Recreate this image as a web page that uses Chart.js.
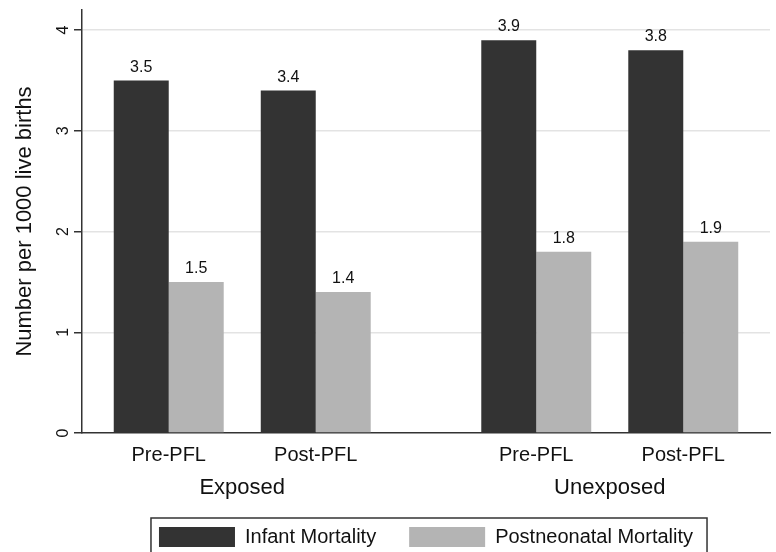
<!DOCTYPE html>
<html><head><meta charset="utf-8">
<script src="https://cdn.jsdelivr.net/npm/chart.js@4.4.1/dist/chart.umd.min.js"></script>
<style>html,body{margin:0;padding:0;background:#fff}#wrap{width:776px;height:552px}</style>
</head><body><div id="wrap"><canvas id="c" width="776" height="552"></canvas></div>
<script>
// ---- data ----
const groups = ['Exposed', 'Unexposed'];
const periods = ['Pre-PFL', 'Post-PFL'];
const seriesNames = ['Infant Mortality', 'Postneonatal Mortality'];
const infantMortality = [3.5, 3.4, 3.9, 3.8];
const postneonatalMortality = [1.5, 1.4, 1.8, 1.9];
const yTicks = [0, 1, 2, 3, 4];

// ---- layout helpers (slot index per group/period) ----
const GROUP_STEP = 2.5;
const slots = [];
groups.forEach((g, gi) => periods.forEach((p, pi) => slots.push({ x: gi * GROUP_STEP + pi, label: p })));
const groupCenters = groups.map((g, gi) => ({ x: gi * GROUP_STEP + (periods.length - 1) / 2, label: g }));

const FONT = '"Liberation Sans", Arial, sans-serif';
const DARK = '#333333', LIGHT = '#b4b4b4';

const valueLabels = {
  id: 'valueLabels',
  afterDatasetsDraw(chart) {
    const ctx = chart.ctx;
    ctx.save();
    ctx.font = '16px ' + FONT;
    ctx.fillStyle = '#111';
    ctx.textAlign = 'center';
    ctx.textBaseline = 'alphabetic';
    chart.data.datasets.forEach((ds, di) => {
      chart.getDatasetMeta(di).data.forEach((el, i) => {
        ctx.fillText(ds.data[i].y.toFixed(1), el.x, el.y - 9);
      });
    });
    ctx.restore();
  }
};

const legendBox = {
  id: 'legendBox',
  afterDraw(chart) {
    const hb = chart.legend && chart.legend.legendHitBoxes;
    if (!hb || !hb.length) return;
    const first = hb[0], last = hb[hb.length - 1];
    const ctx = chart.ctx;
    ctx.save();
    ctx.strokeStyle = '#333';
    ctx.lineWidth = 1.5;
    const l = first.left - 8, r = last.left + last.width + 14;
    const t = first.top - 9, b = first.top + first.height + 9;
    ctx.strokeRect(l, t, r - l, b - t);
    ctx.restore();
  }
};

const xMin = -0.59, xMax = 4.09;

new Chart(document.getElementById('c'), {
  type: 'bar',
  data: {
    datasets: [
      { label: seriesNames[0], data: infantMortality.map((v, i) => ({ x: slots[i].x, y: v })), backgroundColor: DARK, borderWidth: 0 },
      { label: seriesNames[1], data: postneonatalMortality.map((v, i) => ({ x: slots[i].x, y: v })), backgroundColor: LIGHT, borderWidth: 0 }
    ]
  },
  options: {
    responsive: false,
    animation: false,
    devicePixelRatio: 1,
    categoryPercentage: 0.748,
    barPercentage: 1,
    layout: { padding: { top: 10, right: 6, left: 0, bottom: -5 } },
    plugins: {
      tooltip: { enabled: false },
      legend: {
        position: 'bottom',
        fullSize: false,
        labels: {
          boxWidth: 76, boxHeight: 20, padding: 33,
          color: '#111',
          font: { family: FONT, size: 20 }
        }
      }
    },
    scales: {
      x: {
        type: 'linear', min: xMin, max: xMax, position: 'bottom', offset: false,
        grid: { display: false, drawTicks: false, offset: false },
        border: { color: '#333', width: 1.5 },
        afterBuildTicks: s => { s.ticks = slots.map(o => ({ value: o.x })); },
        afterFit: s => { s.height = 40; },
        ticks: {
          autoSkip: false, maxRotation: 0, padding: 10, color: '#111',
          font: { family: FONT, size: 20 },
          callback: v => { const o = slots.find(q => Math.abs(q.x - v) < 1e-6); return o ? o.label : ''; }
        }
      },
      x2: {
        type: 'linear', min: xMin, max: xMax, position: 'bottom', offset: false,
        grid: { display: false, drawTicks: false, offset: false },
        border: { display: false },
        afterBuildTicks: s => { s.ticks = groupCenters.map(o => ({ value: o.x })); },
        afterFit: s => { s.height = 21; },
        ticks: {
          autoSkip: false, maxRotation: 0, mirror: true, padding: -28, color: '#111',
          font: { family: FONT, size: 22 },
          callback: v => { const o = groupCenters.find(q => Math.abs(q.x - v) < 1e-6); return o ? o.label : ''; }
        }
      },
      y: {
        min: 0, max: 4.2,
        afterBuildTicks: s => { s.ticks = yTicks.map(v => ({ value: v })); },
        afterFit: s => { s.width = 82; s.paddingTop = 0; s.paddingBottom = 0; },
        grid: {
          color: c => (c.tick && c.tick.value === 0) ? 'rgba(0,0,0,0)' : '#e3e3e3',
          lineWidth: 1.5,
          tickColor: '#333', tickLength: 8
        },
        border: { color: '#333', width: 1.5 },
        ticks: {
          minRotation: 90, maxRotation: 90, crossAlign: 'center', padding: 6,
          color: '#111', font: { family: FONT, size: 16 }
        },
        title: {
          display: true, text: 'Number per 1000 live births', color: '#111',
          font: { family: FONT, size: 22 }, padding: { top: 12, bottom: 0 }
        }
      }
    }
  },
  plugins: [valueLabels, legendBox]
});
</script>
</body></html>
